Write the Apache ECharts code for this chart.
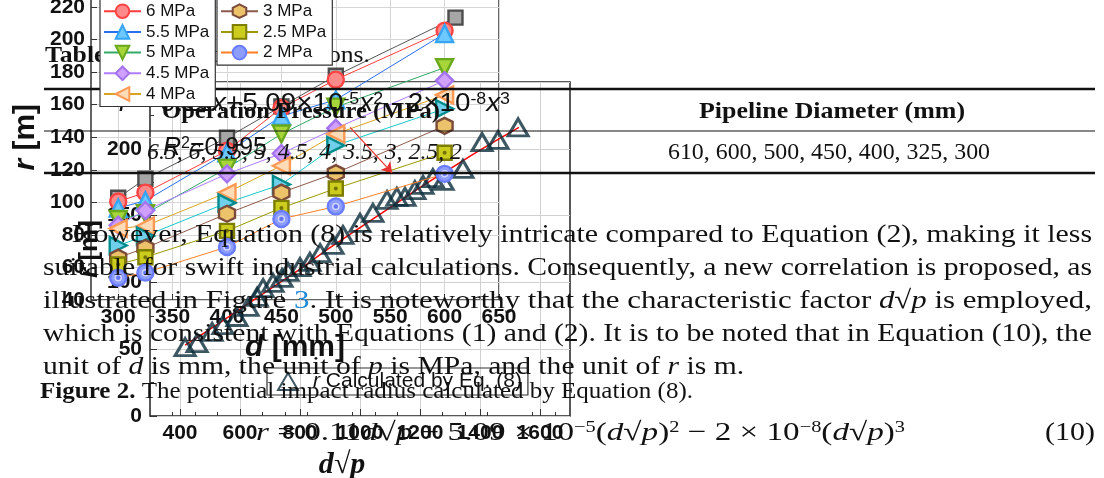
<!DOCTYPE html>
<html><head><meta charset="utf-8">
<script src="https://cdn.jsdelivr.net/npm/echarts@6/dist/echarts.min.js"></script>
<style>html,body{margin:0;padding:0;background:#fff}#c{width:1104px;height:478px}</style>
</head><body><div id="c"></div>
<script>
// ---------- Figure 2 data: r [m] vs d [mm] ----------
const diameters = [300, 325, 400, 450, 500, 600];
const diameters65 = [300, 325, 400, 450, 500, 610];
const r65 = [102.8, 114.5, 139.7, 159, 177.8, 213.5];
const r60 = [100.5, 106, 131.7, 158, 175.4, 205.5];
const r55 = [96.5, 101, 130.5, 153, 163, 203.7];
const r50 = [89.5, 93, 121, 142, 158.5, 182.8];
const r45 = [86, 95, 117.5, 130, 145.5, 174.8];
const r40 = [84, 85.5, 106, 122.5, 142, 166];
const r35 = [73.5, 79.4, 99.7, 111, 135, 157.5];
const r30 = [66, 72, 93, 106, 118, 147];
const r25 = [61.8, 66.3, 82.5, 96.6, 108.5, 130.5];
const r20 = [53.7, 56.8, 72.6, 89.8, 97.5, 117.5];
const dTicks = [300, 350, 400, 450, 500, 550, 600, 650];
const legendLeft = ['6.5 MPa', '6 MPa', '5.5 MPa', '5 MPa', '4.5 MPa', '4 MPa'];
const legendRight = ['3.5 MPa', '3 MPa', '2.5 MPa', '2 MPa'];

// ---------- Figure 3 data: r vs d*sqrt(p) ----------
const dspX = [417, 457, 507, 543, 590, 627, 657, 677, 710, 740, 760, 800, 833, 867, 910, 943, 1000, 1043, 1090, 1123, 1150, 1183, 1210, 1243, 1277, 1343, 1407, 1460, 1527];
const dspR = [51.6, 54.6, 62.9, 68.1, 74.1, 81.6, 89.1, 95.8, 99.6, 103.3, 107.8, 111.5, 115.3, 122, 128, 135.5, 144.5, 152, 161.7, 164, 164, 169, 173, 178, 176, 185, 205, 206.6, 216];
const fitX = [417, 500, 600, 700, 800, 900, 1000, 1100, 1200, 1300, 1400, 1530];
const fitR = [53, 65, 80, 95, 110, 126, 141, 156, 171, 185, 199, 216];
const dspTicks = [400, 600, 800, 1000, 1200, 1400, 1600];
const arrowFrom = [967, 216];
const arrowTo = [1107, 182];

const SERIF = '"Liberation Serif", "DejaVu Serif", serif';
const SANS = '"Liberation Sans", Arial, sans-serif';

const pairs = (xs, ys) => xs.map((x, i) => [x, ys[i]]);

// ---------- text measuring helpers ----------
const ctx = document.createElement('canvas').getContext('2d');
function parseRich(t) {
  const segs = []; const re = /\{(\w+)\|([^}]*)\}/g; let last = 0, m;
  while ((m = re.exec(t))) {
    if (m.index > last) segs.push(['', t.slice(last, m.index)]);
    segs.push([m[1], m[2]]); last = re.lastIndex;
  }
  if (last < t.length) segs.push(['', t.slice(last)]);
  return segs;
}
function measure(t, base, rich) {
  let w = 0;
  for (const [k, s] of parseRich(t)) {
    const st = Object.assign({}, base, rich[k] || {});
    ctx.font = `${st.fontStyle} ${st.fontWeight} ${st.fontSize}px ${st.fontFamily}`;
    w += ctx.measureText(s).width;
  }
  return w;
}
function makeRich(size, family) {
  const b = {fontSize: size, fontFamily: family, fontStyle: 'normal', fontWeight: 'normal', fill: '#111'};
  return {
    base: b,
    rich: {
      b: Object.assign({}, b, {fontWeight: 'bold'}),
      i: Object.assign({}, b, {fontStyle: 'italic'}),
      c: Object.assign({}, b, {fill: '#1f8ad6'}),
      s: Object.assign({}, b, {fontSize: Math.round(size * 0.62), verticalAlign: 'top'})
    }
  };
}
let lastScale = 1;
function textEl(line) {
  const size = line.size || 26;
  const fam = line.family || SERIF;
  const {base, rich} = makeRich(size, fam);
  const w = measure(line.t, base, rich);
  const s = line.right ? (line.right - line.left) / w : lastScale;
  lastScale = s;
  return {
    type: 'text', x: line.left, y: line.y, scaleX: s, z: 5, silent: true,
    style: Object.assign({}, base, {text: line.t, rich: rich, align: 'left', verticalAlign: 'middle',
      textAlign: 'left', textVerticalAlign: 'middle'})
  };
}

const pageLines = [
  {t: '{b|Table 1.} Simulation conditions.', left: 45, right: 370, y: 56, size: 24},
  {t: '{b|Operation Pressure (MPa)}', left: 162, right: 440, y: 112, size: 24},
  {t: '{b|Pipeline Diameter (mm)}', left: 699, right: 965, y: 112, size: 24},
  {t: '{i|6.5, 6, 5.5, 5, 4.5, 4, 3.5, 3, 2.5, 2}', left: 147, right: 462, y: 153, size: 24},
  {t: '610, 600, 500, 450, 400, 325, 300', left: 668, right: 990, y: 153, size: 24},
  {t: 'However, Equation (8) is relatively intricate compared to Equation (2), making it less', left: 72, right: 1092, y: 235},
  {t: 'suitable for swift industrial calculations. Consequently, a new correlation is proposed, as', left: 43, right: 1092, y: 268},
  {t: 'illustrated in Figure {c|3}. It is noteworthy that the characteristic factor {i|d}√{i|p} is employed,', left: 43, right: 1092, y: 301},
  {t: 'which is consistent with Equations (1) and (2). It is to be noted that in Equation (10), the', left: 43, right: 1092, y: 334},
  {t: 'unit of {i|d} is mm, the unit of {i|p} is MPa, and the unit of {i|r} is m.', left: 43, y: 367},
  {t: '{b|Figure 2.} The potential impact radius calculated by Equation (8).', left: 40, right: 693, y: 392, size: 23},
  {t: '{i|r} = 0.11{i|d}√{i|p} + 5.09 × 10{s|−5}({i|d}√{i|p}){s|2} − 2 × 10{s|−8}({i|d}√{i|p}){s|3}', left: 256, right: 905, y: 433},
  {t: '(10)', left: 1045, right: 1095, y: 433}
];

// chart B annotation texts (sans)
const eqText = '{i|r} = 0.11{i|x}+5.09×10{s|-5}{i|x}{s|2} - 2×10{s|-8}{i|x}{s|3}';
const eqPrefix = '{i|r} = ';
(function () {
  const {base, rich} = makeRich(25, SANS);
  const W = measure(eqText, base, rich), P = measure(eqPrefix, base, rich);
  const s = (510 - 160) / (W - P);
  pageLines.push({t: eqText, left: 160 - P * s, right: 160 - P * s + W * s, y: 104, size: 25, family: SANS});
  pageLines.push({t: '{i|R}{s|2}=0.995', left: 163, right: 267, y: 148, size: 25, family: SANS});
})();

const graphics = pageLines.map(textEl);
[[44, 89, 2.6], [44, 131, 1.1], [44, 173, 2.6]].forEach(([x, y, w]) => {
  graphics.push({type: 'line', z: 5, silent: true, shape: {x1: x, y1: y, x2: 1095, y2: y}, style: {stroke: '#111', lineWidth: w}});
});

// ---------- series ----------
const specs = [
  ['6.5 MPa', diameters65, r65, 'rect', 14, 0, '#a6a6a6', '#4d4d4d', '#555555'],
  ['6 MPa', diameters, r60, 'circle', 16, 0, '#ff8a8a', '#ff4444', '#ff3b3b'],
  ['5.5 MPa', diameters, r55, 'triangle', 17, 0, '#6cc8ff', '#35a4f4', '#2a6ff0'],
  ['5 MPa', diameters, r50, 'triangle', 17, 180, '#a6d63a', '#6aa81e', '#33aa66'],
  ['4.5 MPa', diameters, r45, 'diamond', 17, 0, '#cfa0ff', '#a472ec', '#b07cff'],
  ['4 MPa', diameters, r40, 'triangle', 17, 90, '#ffdcb8', '#ff9a55', '#d9a520'],
  ['3.5 MPa', diameters, r35, 'triangle', 17, -90, '#70d0ec', '#008c8c', '#16c8cc'],
  ['3 MPa', diameters, r30, 'path://M0,-10L8.66,-5L8.66,5L0,10L-8.66,5L-8.66,-5Z', 16, 0, '#ecc26a', '#7a4a3a', '#8c5a4a'],
  ['2.5 MPa', diameters, r25, 'rect', 14, 0, '#cccc1e', '#7d7d00', '#9a9a00'],
  ['2 MPa', diameters, r20, 'circle', 16, 0, '#8d9cff', '#6a7cff', '#ff7f27']
];
const series = specs.map(([name, xs, ys, sym, size, rot, fill, border, line]) => ({
  name, type: 'line', xAxisIndex: 0, yAxisIndex: 0, data: pairs(xs, ys),
  symbol: sym, symbolSize: size, symbolRotate: rot, showAllSymbol: true, z: 3,
  lineStyle: {color: line, width: 1}, itemStyle: {color: fill, borderColor: border, borderWidth: 2.4},
  emphasis: {disabled: true}
}));
series.push({type: 'scatter', xAxisIndex: 0, yAxisIndex: 0, data: pairs(diameters, r25), symbol: 'circle', symbolSize: 4,
  itemStyle: {color: '#5c5c00'}, z: 4, silent: true});
series.push({type: 'scatter', xAxisIndex: 0, yAxisIndex: 0, data: pairs(diameters, r20), symbol: 'circle', symbolSize: 6,
  itemStyle: {color: '#5b6cf0', borderColor: '#e6e9ff', borderWidth: 1.5}, z: 4, silent: true});
series.push({
  name: 'r Calculated by Eq. (8)', type: 'scatter', xAxisIndex: 1, yAxisIndex: 1, data: pairs(dspX, dspR),
  symbol: 'triangle', symbolSize: [20, 17], z: 2,
  itemStyle: {color: 'rgba(255,255,255,0)', borderColor: '#0c2e3c', borderWidth: 3}
});
series.push({
  type: 'line', xAxisIndex: 1, yAxisIndex: 1, data: pairs(fitX, fitR), smooth: true, showSymbol: false, z: 2,
  lineStyle: {color: '#ff0000', width: 1.5},
  markLine: {silent: true, symbol: ['none', 'arrow'], symbolSize: 10, label: {show: false},
    lineStyle: {color: '#e83030', width: 1.2, type: 'solid'},
    data: [[{coord: arrowFrom}, {coord: arrowTo}]]}
});

const tickLabel = {fontFamily: SANS, fontWeight: 'bold', fontSize: 21, color: '#111', formatter: v => String(v), hideOverlap: false};
const legendCommon = {
  orient: 'vertical', top: -22, itemWidth: 37, itemHeight: 17, itemGap: 3.7, padding: [4, 6, 4, 3],
  borderColor: '#333', borderWidth: 1.2, backgroundColor: '#fff', z: 10, symbolRotate: 'inherit',
  textStyle: {fontFamily: SANS, fontSize: 17, lineHeight: 17, color: '#111'}, selectedMode: false
};

const option = {
  animation: false,
  backgroundColor: '#fff',
  grid: [
    {left: 91, right: 605, top: -25.5, bottom: 178, show: true, borderColor: '#333', borderWidth: 1.5, backgroundColor: 'transparent', outerBoundsMode: 'none', containLabel: false},
    {left: 150, right: 534, top: 82, bottom: 62, show: true, borderColor: '#222', borderWidth: 1.5, backgroundColor: 'transparent', outerBoundsMode: 'none', containLabel: false}
  ],
  xAxis: [
    {type: 'value', gridIndex: 0, min: 275, max: 650,
      name: '{i|d} [mm]', nameLocation: 'middle', nameGap: 28,
      nameTextStyle: {fontFamily: SANS, fontWeight: 'bold', fontSize: 30, color: '#111', rich: {i: {fontStyle: 'italic', fontWeight: 'bold', fontSize: 30, fontFamily: SANS}}},
      axisLine: {show: false}, axisTick: {inside: true, length: 6, customValues: dTicks, lineStyle: {color: '#333'}},
      axisLabel: Object.assign({margin: 7, customValues: dTicks}, tickLabel),
      splitLine: {show: true, lineStyle: {color: '#d6d6d6', width: 1}}},
    {type: 'value', gridIndex: 1, min: 300, max: 1700,
      name: 'd√p', nameLocation: 'middle', nameGap: 34,
      nameTextStyle: {fontFamily: SERIF, fontWeight: 'bold', fontStyle: 'italic', fontSize: 30, color: '#111', padding: [0, 36, 0, 0]},
      axisLine: {show: false}, axisTick: {inside: true, length: 7, customValues: dspTicks, lineStyle: {color: '#333'}},
      minorTick: {show: true, splitNumber: 4, length: 4, lineStyle: {color: '#333'}},
      axisLabel: Object.assign({margin: 7, customValues: dspTicks}, tickLabel),
      splitLine: {show: true, lineStyle: {color: '#d0d0d0', width: 1}}}
  ],
  yAxis: [
    {type: 'value', gridIndex: 0, min: 40, max: 240, interval: 20,
      name: '{i|r} [m]', nameLocation: 'middle', nameGap: 50,
      nameTextStyle: {fontFamily: SANS, fontWeight: 'bold', fontSize: 30, color: '#111', rich: {i: {fontStyle: 'italic', fontWeight: 'bold', fontSize: 30, fontFamily: SANS}}},
      axisLine: {show: false}, axisTick: {inside: true, length: 6, lineStyle: {color: '#333'}},
      axisLabel: Object.assign({margin: 6}, tickLabel),
      splitLine: {show: true, lineStyle: {color: '#d6d6d6', width: 1}}},
    {type: 'value', gridIndex: 1, min: 0, max: 250, interval: 50,
      name: '{i|r} [m]', nameLocation: 'middle', nameGap: 44,
      nameTextStyle: {fontFamily: SANS, fontWeight: 'bold', fontSize: 26, color: '#111', rich: {i: {fontStyle: 'italic', fontWeight: 'bold', fontSize: 26, fontFamily: SANS}}},
      axisLine: {show: false}, axisTick: {inside: true, length: 7, lineStyle: {color: '#333'}},
      minorTick: {show: true, splitNumber: 2, length: 4, lineStyle: {color: '#333'}},
      axisLabel: Object.assign({margin: 8}, tickLabel),
      splitLine: {show: true, lineStyle: {color: '#d0d0d0', width: 1}}}
  ],
  legend: [
    Object.assign({left: 100, data: legendLeft}, legendCommon),
    Object.assign({left: 217, data: legendRight}, legendCommon),
    {left: 267, top: 368, data: ['r Calculated by Eq. (8)'], itemWidth: 20, itemHeight: 17, padding: [3, 6, 3, 10],
      borderColor: '#333', borderWidth: 1.2, backgroundColor: 'transparent', z: 4, selectedMode: false,
      formatter: () => '{i|r} Calculated by Eq. (8)',
      textStyle: {fontFamily: SANS, fontSize: 21, color: '#111', padding: [0, 0, 0, 10],
        rich: {i: {fontStyle: 'italic', fontFamily: SANS, fontSize: 21}}}}
  ],
  graphic: graphics,
  series: series
};
const chart = echarts.init(document.getElementById('c'), null, {renderer: 'canvas'});
chart.setOption(option);
</script></body></html>
